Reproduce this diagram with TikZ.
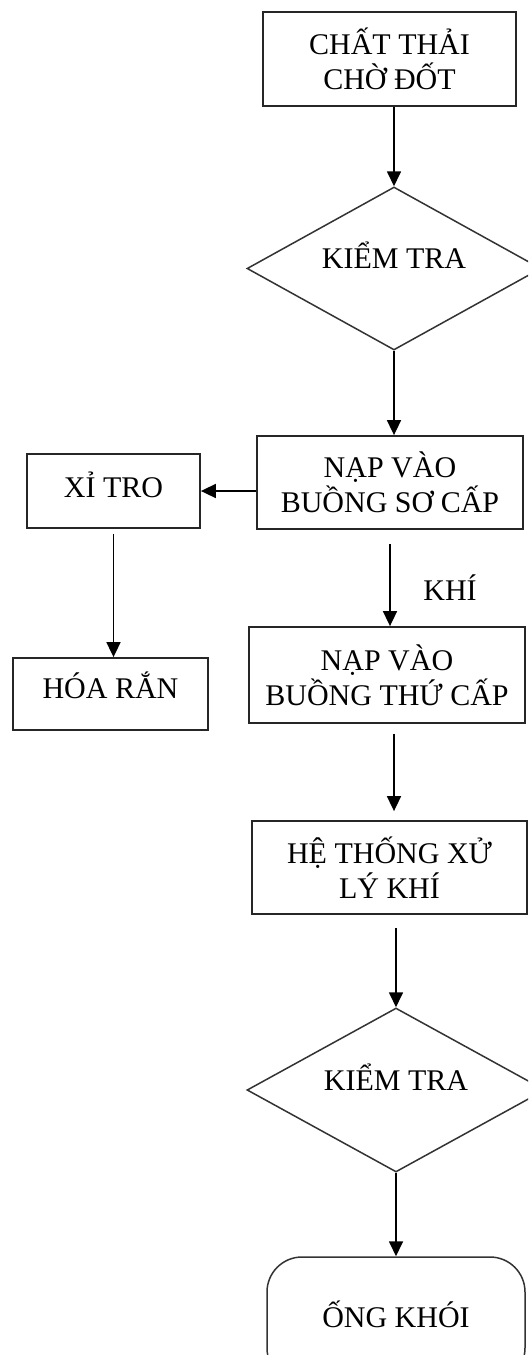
\documentclass[tikz,border=0pt]{standalone}
\usepackage{fontspec}
\setmainfont{Liberation Serif}
\usetikzlibrary{shapes.geometric,arrows.meta}
\begin{document}
\begin{tikzpicture}[x=1pt,y=-1pt,
  every node/.style={font=\fontsize{30}{35}\selectfont, text=black},
  box/.style={draw=black!85, line width=1.8pt, rectangle, inner sep=0pt, align=center},
  decision/.style={draw=black!80, line width=1.5pt, diamond, inner sep=0pt, aspect=1.8},
  terminal/.style={draw=black!80, line width=1.5pt, rectangle, rounded corners=35pt, inner sep=0pt},
  arr/.style={draw=black, line width=1.7pt, -{Triangle[length=15pt,width=14pt]}}]
\useasboundingbox (0,0) rectangle (528,1355);
\clip (0,0) rectangle (528,1355);
\fill[white] (0,0) rectangle (528,1355);

\node[box, minimum width=253pt, minimum height=94pt] (b1) at (389.5,59) {CHẤT THẢI\\CHỜ ĐỐT};
\node[decision, minimum width=294pt, minimum height=163pt, text height=20pt, text depth=20pt] (d1) at (394,268.5) {KIỂM TRA};
\node[box, minimum width=266pt, minimum height=93pt] (b2) at (390,482.5) {NẠP VÀO\\BUỒNG SƠ CẤP};
\node[box, minimum width=173pt, minimum height=74pt, text height=22pt, text depth=10pt] (xi) at (113.5,491) {XỈ TRO};
\node[box, minimum width=195pt, minimum height=72pt, text height=20pt, text depth=12pt] (hr) at (110.5,694) {HÓA RẮN};
\node (khi) at (450,588) {KHÍ};
\node[box, minimum width=276pt, minimum height=96pt] (b3) at (387,675) {NẠP VÀO\\BUỒNG THỨ CẤP};
\node[box, minimum width=275pt, minimum height=93pt] (b4) at (389.5,867.5) {HỆ THỐNG XỬ\\LÝ KHÍ};
\node[decision, minimum width=298pt, minimum height=164pt, text height=20pt, text depth=20pt] (d2) at (396,1090) {KIỂM TRA};
\node[terminal, minimum width=258pt, minimum height=126pt, text height=24pt, text depth=10pt] (t) at (396,1320) {ỐNG KHÓI};

\draw[arr] (b1.south -| d1.north) -- (d1.north);
\draw[arr] (d1.south) -- (b2.north -| d1.south);
\draw[arr] (xi.east -| b2.west) -- (xi.east);
\draw[arr, shorten <=5pt] (xi.south) -- (hr.north -| xi.south);
\draw[arr, shorten <=14pt] (b2.south) -- (b3.north -| b2.south);
\draw[arr, shorten <=10pt, shorten >=9pt] (b3.south -| d1.south) -- (b4.north -| d1.south);
\draw[arr, shorten <=13pt] (b4.south -| d2.north) -- (d2.north);
\draw[arr] (d2.south) -- (t.north);
\end{tikzpicture}
\end{document}
